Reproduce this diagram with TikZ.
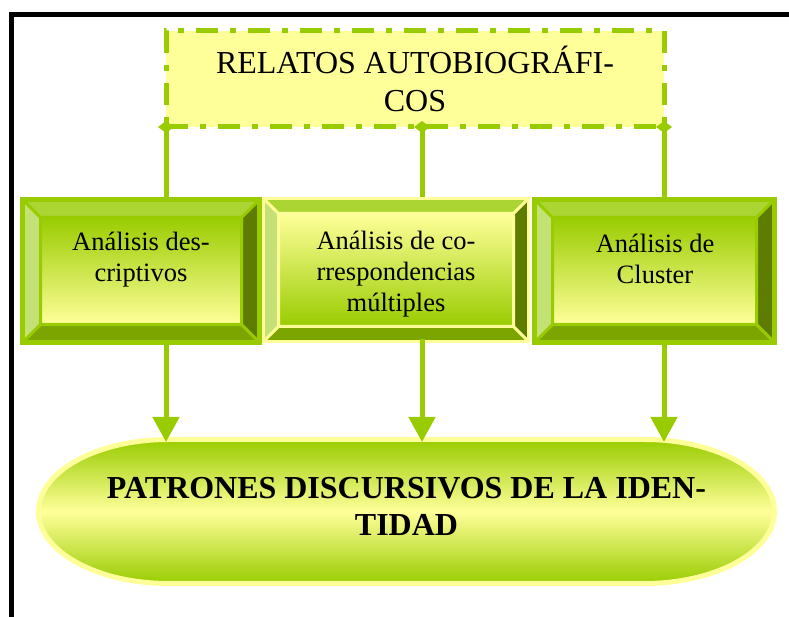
\documentclass[tikz,border=0pt]{standalone}
\usepackage{fontspec}
\setmainfont{Liberation Serif}
\usetikzlibrary{arrows.meta,calc}

\definecolor{leafgreen}{HTML}{99CC00}
\definecolor{paleyellow}{HTML}{FFFF99}
\definecolor{bevtop}{HTML}{AAD532}
\definecolor{bevleft}{HTML}{C4E176}
\definecolor{bevright}{HTML}{5E7C00}
\definecolor{bevbottom}{HTML}{7DA500}

% bevel round a box node: name, depth, edge colour, face top, face bottom, rim width
\newcommand{\bevelsides}[6]{%
  \coordinate (#1-nw) at ($(#1.north west)+(#2,-#2)$);
  \coordinate (#1-ne) at ($(#1.north east)+(-#2,-#2)$);
  \coordinate (#1-sw) at ($(#1.south west)+(#2,#2)$);
  \coordinate (#1-se) at ($(#1.south east)+(-#2,#2)$);
  \fill[bevtop] (#1.north west) -- (#1.north east) -- (#1-ne) -- (#1-nw) -- cycle;
  \fill[bevleft] (#1.north west) -- (#1-nw) -- (#1-sw) -- (#1.south west) -- cycle;
  \fill[bevright] (#1.north east) -- (#1.south east) -- (#1-se) -- (#1-ne) -- cycle;
  \fill[bevbottom] (#1.south west) -- (#1-sw) -- (#1-se) -- (#1.south east) -- cycle;
  \shade[top color=#4,bottom color=#5] (#1-nw) rectangle (#1-se);
  \draw[#3,line width=3pt] (#1-nw) rectangle (#1-se)
    (#1.north west) -- (#1-nw) (#1.north east) -- (#1-ne)
    (#1.south west) -- (#1-sw) (#1.south east) -- (#1-se);
  \draw[#3,line width=#6] (#1.north west) rectangle (#1.south east);
}

\begin{document}
\begin{tikzpicture}[x=1pt,y=1pt,
  frame/.style={line width=4.5pt},
  relbox/.style={draw=leafgreen,fill=paleyellow,line width=5pt,
    dash pattern=on 22pt off 12pt on 6pt off 12pt,
    minimum width=498pt,minimum height=96pt,inner sep=0pt,outer sep=0pt,
    align=center,font=\fontsize{32}{38}\selectfont},
  outbox/.style={minimum width=#1,minimum height=143pt,inner sep=0pt,outer sep=0pt},
  boxtext/.style={align=center,font=\fontsize{26.5}{31}\selectfont},
  patbox/.style={minimum width=736pt,minimum height=144pt,inner sep=0pt,outer sep=0pt},
  pattext/.style={align=center,font=\fontsize{32}{37}\selectfont\bfseries},
  link/.style={leafgreen,line width=5pt},
  dia/.style={link,{Diamond[length=12pt,width=16pt]}-},
  arr/.style={link,-{Triangle[length=25pt,width=26pt]},shorten <=-2.5pt,shorten >=-2.5pt}]
\useasboundingbox (0,0) rectangle (789,617);
\draw[frame] (11.5,0) -- (11.5,602.25) -- (789,602.25);

\node[relbox] (rel) at (415,538) {RELATOS AUTOBIOGRÁFI-\\COS};
\coordinate (xl) at (rel.south west);
\coordinate (xm) at ([xshift=7pt]rel.south);
\coordinate (xr) at (rel.south east);

\node[outbox=237pt] (desc) at (141,346) {};
\node[outbox=265pt] (corr) at (396,347) {};
\node[outbox=240pt] (clus) at (654.5,346) {};

\draw[dia] ([yshift=6pt]xl) -- (xl |- desc.north);
\draw[dia] ([yshift=6pt]xm) -- (xm |- corr.north);
\draw[dia] ([yshift=6pt]xr) -- (xr |- clus.north);

\bevelsides{desc}{18}{leafgreen}{leafgreen}{paleyellow}{5pt}
\bevelsides{corr}{15}{paleyellow}{paleyellow}{leafgreen}{3pt}
\bevelsides{clus}{18}{leafgreen}{leafgreen}{paleyellow}{5pt}

\node[boxtext] (desc-t) at (141,357) {Análisis des-\\criptivos};
\node[boxtext] (corr-t) at (396,343) {Análisis de co-\\rrespondencias\\múltiples};
\node[boxtext] (clus-t) at (655,358) {Análisis de\\Cluster};

\node[patbox] (pat) at (406.5,105.5) {};
\draw[draw=paleyellow,line width=5pt,top color=leafgreen,bottom color=leafgreen,middle color=paleyellow]
  ($(pat.north west)+(130,0)$) -- ($(pat.north east)+(-130,0)$)
  arc[start angle=90,end angle=-90,x radius=130,y radius=72]
  -- ($(pat.south west)+(130,0)$)
  arc[start angle=270,end angle=90,x radius=130,y radius=72] -- cycle;
\node[pattext] (pat-t) at (406.5,111) {PATRONES DISCURSIVOS DE LA IDEN-\\TIDAD};

\draw[arr] (xl |- desc.south) -- (xl |- pat.north);
\draw[arr] (xm |- corr.south) -- (xm |- pat.north);
\draw[arr] (xr |- clus.south) -- (xr |- pat.north);

\end{tikzpicture}
\end{document}
